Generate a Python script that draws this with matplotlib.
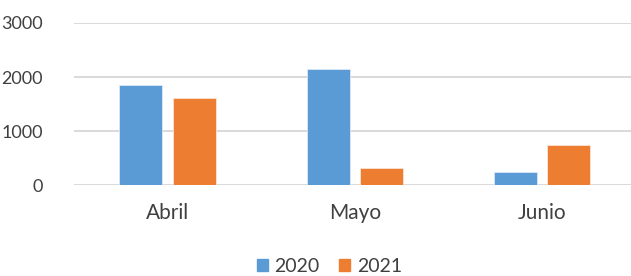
import numpy as np
import matplotlib.pyplot as plt
from matplotlib.patches import Patch

meses = ["Abril", "Mayo", "Junio"]
v2020 = [1855, 2140, 240]
v2021 = [1605, 320, 740]
yticks = [0, 1000, 2000, 3000]

azul = "#5B9BD5"
naranja = "#ED7D31"
gris = "#404040"

plt.rcParams['font.family'] = ['Lato', 'DejaVu Sans']

fig = plt.figure(figsize=(6.31, 2.76), dpi=100)
# plot area spans past the right edge of the picture, as in the original
ax = fig.add_axes([73.75 / 631, 91 / 276, (636 - 73.75) / 631, 162 / 276])

x = np.arange(len(meses))
w = 0.229
off = 0.142
ax.bar(x - off, v2020, w, color=azul, edgecolor="#dbe8f5", linewidth=0.6, zorder=3)
ax.bar(x + off, v2021, w, color=naranja, edgecolor="#fbe3d4", linewidth=0.6, zorder=3)

ax.set_xlim(-0.5, 2.5)
ax.set_ylim(0, 3000)
ax.set_yticks(yticks)
ax.set_xticks(x)
ax.set_xticklabels(meses)
ax.yaxis.grid(True, color="#d9d9d9", linewidth=1.4, zorder=0)
for s in ax.spines.values():
    s.set_visible(False)
ax.tick_params(length=0, colors=gris)
ax.tick_params(axis="y", labelsize=13, pad=22)
ax.tick_params(axis="x", labelsize=15, pad=13)

handles = [Patch(color=azul, label="2020"), Patch(color=naranja, label="2021")]
fig.legend(handles=handles, loc="center", bbox_to_anchor=(0.522, 0.035), ncol=2,
           frameon=False, fontsize=14, handlelength=0.55, handleheight=0.55,
           handletextpad=0.35, columnspacing=1.0, labelcolor=gris)

fig.savefig("out.png", dpi=100)
